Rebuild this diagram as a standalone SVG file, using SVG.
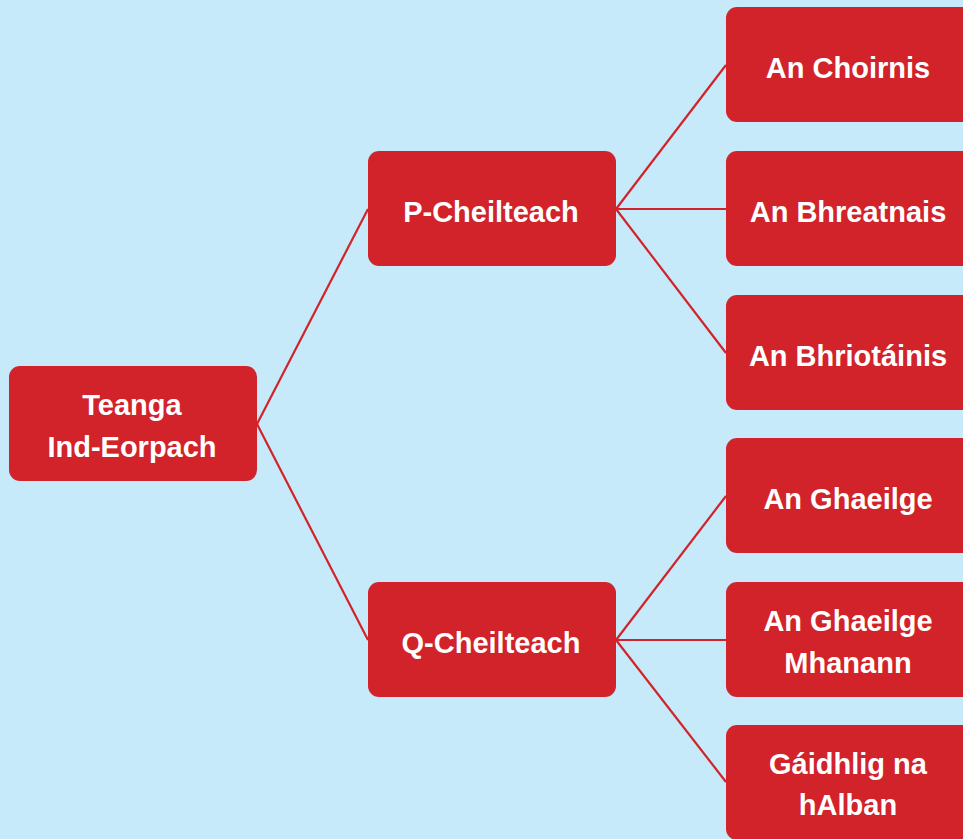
<svg xmlns="http://www.w3.org/2000/svg" width="963" height="839" viewBox="0 0 963 839">
<style>
.bg{fill:#C6EAF9}
.box{fill:#D2232A}
.t{font-family:"Liberation Sans","Open Sans",Arial,sans-serif;font-weight:bold;font-size:29px;fill:#FFFFFF;text-anchor:middle}
.c{stroke:#D2232A;stroke-width:2.2;fill:none}
</style>
<rect class="bg" x="0" y="0" width="963" height="839"/>
<g id="connectors">
<line class="c" x1="257" y1="424" x2="368" y2="209"/>
<line class="c" x1="257" y1="424" x2="368" y2="640"/>
<line class="c" x1="616" y1="209" x2="726" y2="65"/>
<line class="c" x1="616" y1="209" x2="726" y2="209"/>
<line class="c" x1="616" y1="209" x2="726" y2="353"/>
<line class="c" x1="616" y1="640" x2="726" y2="496"/>
<line class="c" x1="616" y1="640" x2="726" y2="640"/>
<line class="c" x1="616" y1="640" x2="726" y2="782"/>
</g>
<g id="root">
<rect class="box" x="9" y="366" width="248" height="115" rx="11"/>
<text class="t" x="132" y="415">Teanga</text>
<text class="t" x="132" y="457">Ind-Eorpach</text>
</g>
<g id="p-cheilteach">
<rect class="box" x="368" y="151" width="248" height="115" rx="11"/>
<text class="t" x="491" y="222">P-Cheilteach</text>
</g>
<g id="q-cheilteach">
<rect class="box" x="368" y="582" width="248" height="115" rx="11"/>
<text class="t" x="491" y="653">Q-Cheilteach</text>
</g>
<g id="an-choirnis">
<rect class="box" x="726" y="7" width="250" height="115" rx="11"/>
<text class="t" x="848" y="78">An Choirnis</text>
</g>
<g id="an-bhreatnais">
<rect class="box" x="726" y="151" width="250" height="115" rx="11"/>
<text class="t" x="848" y="222">An Bhreatnais</text>
</g>
<g id="an-bhriotainis">
<rect class="box" x="726" y="295" width="250" height="115" rx="11"/>
<text class="t" x="848" y="366">An Bhriotáinis</text>
</g>
<g id="an-ghaeilge">
<rect class="box" x="726" y="438" width="250" height="115" rx="11"/>
<text class="t" x="848" y="509">An Ghaeilge</text>
</g>
<g id="an-ghaeilge-mhanann">
<rect class="box" x="726" y="582" width="250" height="115" rx="11"/>
<text class="t" x="848" y="631">An Ghaeilge</text>
<text class="t" x="848" y="673">Mhanann</text>
</g>
<g id="gaidhlig-na-halban">
<rect class="box" x="726" y="725" width="250" height="115" rx="11"/>
<text class="t" x="848" y="774">Gáidhlig na</text>
<text class="t" x="848" y="815">hAlban</text>
</g>
</svg>
